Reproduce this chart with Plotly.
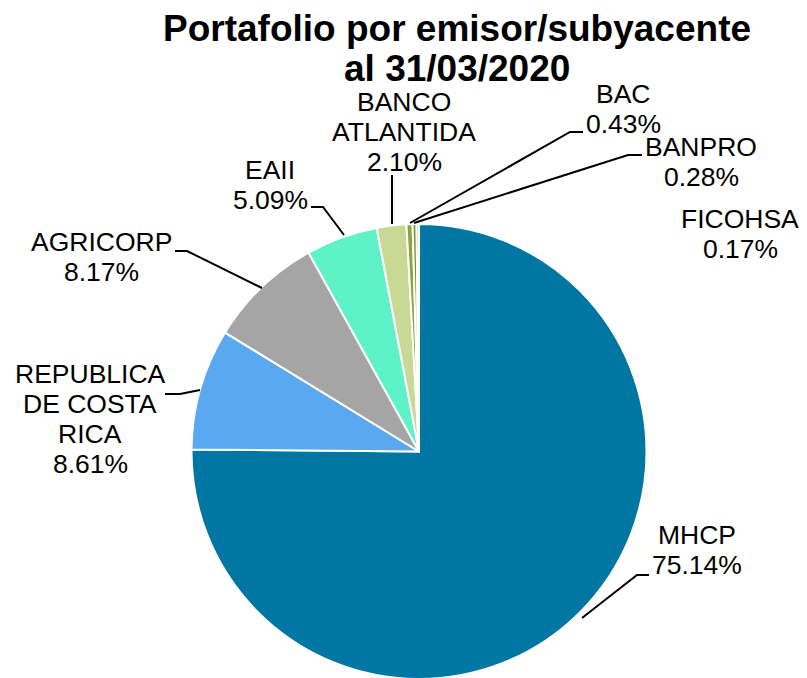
import plotly.graph_objects as go

# ---- data ----
labels = ["MHCP", "REPUBLICA DE COSTA RICA", "AGRICORP", "EAII",
          "BANCO ATLANTIDA", "BAC", "BANPRO", "FICOHSA"]
values = [75.14, 8.61, 8.17, 5.09, 2.10, 0.43, 0.28, 0.17]
label_lines = {
    "MHCP": ["MHCP"],
    "REPUBLICA DE COSTA RICA": ["REPUBLICA", "DE COSTA", "RICA"],
    "AGRICORP": ["AGRICORP"],
    "EAII": ["EAII"],
    "BANCO ATLANTIDA": ["BANCO", "ATLANTIDA"],
    "BAC": ["BAC"],
    "BANPRO": ["BANPRO"],
    "FICOHSA": ["FICOHSA"],
}
title_lines = ["Portafolio por emisor/subyacente", "al 31/03/2020"]

# ---- styling / layout ----
W, H = 807, 700
OFF = 8  # page body margin
colors = ["#0076A3", "#5AA9F0", "#A5A5A5", "#5DF2C8",
          "#C8D995", "#8CA43A", "#7C962C", "#A0B84E"]
FONT = "Liberation Sans, Arial, sans-serif"

# label placement in page pixels (centre x, first-line centre y)
label_pos = {
    "MHCP": (697, 535),
    "REPUBLICA DE COSTA RICA": (90, 374),
    "AGRICORP": (101, 242),
    "EAII": (270, 170),
    "BANCO ATLANTIDA": (404, 102),
    "BAC": (623, 94),
    "BANPRO": (701, 147),
    "FICOHSA": (740, 219),
}
LINE_SP = 30

leaders = {
    "MHCP": [(649, 575), (637, 575), (582, 618)],
    "REPUBLICA DE COSTA RICA": [(165, 394), (180, 394), (200, 390)],
    "AGRICORP": [(175, 251), (187, 251), (262, 288)],
    "EAII": [(311, 207), (323, 207), (344, 235)],
    "BANCO ATLANTIDA": [(392, 175), (392, 224)],
    "BAC": [(583, 132), (570, 132), (410, 223)],
    "BANPRO": [(642, 155), (628, 155), (414, 223)],
}


def px(x, y):
    return (x - OFF) / W, 1 - (y - OFF) / H


# pie box in page pixels
PCX, PCY, PR = 419, 451.5, 227.5
dx0, dy0 = px(PCX - PR, PCY + PR)
dx1, dy1 = px(PCX + PR, PCY - PR)

fig = go.Figure()
fig.add_trace(go.Pie(
    labels=labels,
    values=values,
    sort=False,
    direction="clockwise",
    rotation=0,
    textinfo="none",
    marker=dict(colors=colors, line=dict(color="white", width=2)),
    domain=dict(x=[dx0, dx1], y=[dy0, dy1]),
    showlegend=False,
))

annotations = []
# title
for t, yc in zip(title_lines, [28, 68]):
    x, y = px(457, yc)
    annotations.append(dict(text="<b>%s</b>" % t, x=x, y=y, xref="paper", yref="paper",
                            xanchor="center", yanchor="middle", showarrow=False,
                            font=dict(family=FONT, size=37, color="black")))

# data labels
for lab, val in zip(labels, values):
    lines = label_lines[lab] + ["%.2f%%" % val]
    cx, cy = label_pos[lab]
    for k, t in enumerate(lines):
        x, y = px(cx, cy + k * LINE_SP)
        annotations.append(dict(text=t, x=x, y=y, xref="paper", yref="paper",
                                xanchor="center", yanchor="middle", showarrow=False,
                                font=dict(family=FONT, size=26.5, color="black")))

shapes = []
for lab, pts in leaders.items():
    path = ""
    for j, (a, b) in enumerate(pts):
        x, y = px(a, b)
        path += ("M" if j == 0 else " L") + " %.5f %.5f" % (x, y)
    shapes.append(dict(type="path", path=path, xref="paper", yref="paper",
                       line=dict(color="black", width=2)))

fig.update_layout(
    width=W, height=H,
    margin=dict(l=0, r=0, t=0, b=0),
    paper_bgcolor="white",
    plot_bgcolor="white",
    annotations=annotations,
    shapes=shapes,
)

fig.write_html("out.html")
